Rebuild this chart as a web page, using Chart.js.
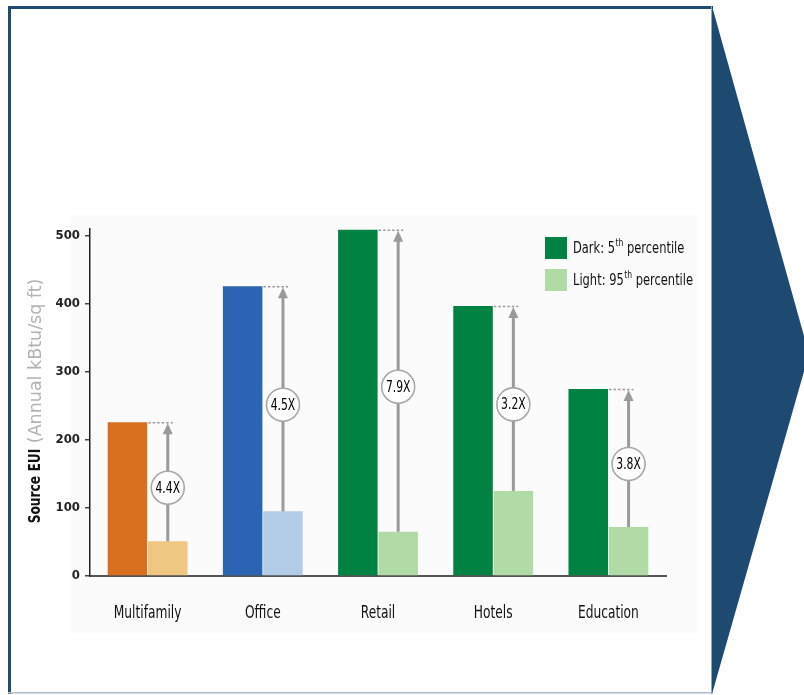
<!DOCTYPE html>
<html><head><meta charset="utf-8">
<script src="https://cdn.jsdelivr.net/npm/chart.js@4.4.1/dist/chart.umd.min.js"></script>
<style>html,body{margin:0;padding:0;background:#fff;}#wrap{width:804px;height:695px;position:relative;}</style>
</head><body><div id="wrap"><canvas id="c" width="804" height="695"></canvas></div>
<script>
const categories = ["Multifamily", "Office", "Retail", "Hotels", "Education"];
const dark5th = [226, 426, 509, 397, 275];
const light95th = [51, 95, 65, 125, 72];
const ratioLabels = ["4.4X", "4.5X", "7.9X", "3.2X", "3.8X"];
const darkColors = ["#d97020", "#2b64b3", "#008342", "#008342", "#008342"];
const lightColors = ["#eec883", "#b2cbe6", "#b1dba6", "#b1dba6", "#b1dba6"];
const yTicks = [0, 100, 200, 300, 400, 500];
const seriesNames = ["Dark: 5|th| percentile", "Light: 95|th| percentile"];

const FF = "'DejaVu Sans Condensed', 'Liberation Sans Narrow', sans-serif";

function squeezeText(ctx, txt, x, y, sx) {
  ctx.save();
  ctx.translate(x, y);
  ctx.scale(sx, 1);
  ctx.fillText(txt, 0, 0);
  ctx.restore();
}

const decor = {
  id: 'decor',
  beforeDraw(chart) {
    const ctx = chart.ctx;
    ctx.save();
    ctx.fillStyle = '#ffffff';
    ctx.fillRect(0, 0, 804, 695);
    ctx.fillStyle = '#fbfbfb';
    ctx.fillRect(70, 215, 627, 418);
    ctx.fillStyle = '#1f4a73';
    ctx.fillRect(8, 6, 3, 688);
    ctx.fillRect(8, 6, 705, 3);
    ctx.fillStyle = '#aebccd';
    ctx.fillRect(8, 692, 705, 1.5);
    ctx.fillStyle = '#1e4a72';
    ctx.beginPath();
    ctx.moveTo(712, 6);
    ctx.lineTo(809, 354);
    ctx.lineTo(712, 694);
    ctx.closePath();
    ctx.fill();
    ctx.fillStyle = '#8fa6c0';
    ctx.fillRect(711, 6, 1, 688);
    ctx.restore();
  },
  afterDraw(chart) {
    const ctx = chart.ctx;
    const m0 = chart.getDatasetMeta(0), m1 = chart.getDatasetMeta(1);
    const xs = chart.scales.x;
    ctx.save();
    // category labels via the x scale
    ctx.fillStyle = '#111';
    ctx.font = "17px " + FF;
    ctx.textAlign = 'center';
    ctx.textBaseline = 'middle';
    xs.ticks.forEach((t, i) => {
      squeezeText(ctx, xs.getLabelForValue(t.value), xs.getPixelForTick(i), 614, 0.8);
    });
    for (let i = 0; i < categories.length; i++) {
      const d = m0.data[i], l = m1.data[i];
      const ax = l.x;
      const topY = d.y, lowY = l.y;
      ctx.strokeStyle = '#9a9a9a';
      ctx.lineWidth = 1.5;
      ctx.setLineDash([2.5, 2]);
      ctx.beginPath();
      ctx.moveTo(d.x + d.width / 2 + 1, topY + 0.5);
      ctx.lineTo(ax + 5, topY + 0.5);
      ctx.stroke();
      ctx.setLineDash([]);
      ctx.lineWidth = 3;
      ctx.beginPath();
      ctx.moveTo(ax, lowY);
      ctx.lineTo(ax, topY + 8);
      ctx.stroke();
      ctx.fillStyle = '#9a9a9a';
      ctx.beginPath();
      ctx.moveTo(ax, topY + 1);
      ctx.lineTo(ax - 5, topY + 12);
      ctx.lineTo(ax + 5, topY + 12);
      ctx.closePath();
      ctx.fill();
      const cy = (topY + lowY) / 2 + 6;
      ctx.beginPath();
      ctx.arc(ax, cy, 16.5, 0, Math.PI * 2);
      ctx.fillStyle = '#ffffff';
      ctx.fill();
      ctx.lineWidth = 1.6;
      ctx.strokeStyle = '#a8a8a8';
      ctx.stroke();
      ctx.fillStyle = '#000';
      ctx.font = "15px " + FF;
      ctx.textAlign = 'center';
      ctx.textBaseline = 'middle';
      squeezeText(ctx, ratioLabels[i], ax, cy + 1, 0.8);
    }
    // y axis title
    ctx.save();
    ctx.translate(36, 401);
    ctx.rotate(-Math.PI / 2);
    ctx.textBaseline = 'middle';
    const t1 = "Source EUI", t2 = " (Annual kBtu/sq ft)";
    const f1 = "bold 16px " + FF, f2 = "17.5px 'DejaVu Sans', sans-serif";
    const s1 = 0.85;
    ctx.font = f1; const w1 = ctx.measureText(t1).width * s1;
    ctx.font = f2; const w2 = ctx.measureText(t2).width;
    const sx = -(w1 + w2) / 2;
    ctx.textAlign = 'left';
    ctx.font = f1; ctx.fillStyle = '#111';
    squeezeText(ctx, t1, sx, 0, s1);
    ctx.font = f2; ctx.fillStyle = '#b3b3b3';
    ctx.fillText(t2, sx + w1, 0);
    ctx.restore();
    // legend
    const legendY = [248, 280];
    const legendCol = ['#008342', '#b1dba6'];
    const ls = 0.85;
    for (let k = 0; k < 2; k++) {
      const cy = legendY[k];
      ctx.fillStyle = legendCol[k];
      ctx.fillRect(545, cy - 11, 22, 22);
      const parts = seriesNames[k].split('|');
      let x = 573;
      ctx.textAlign = 'left';
      ctx.textBaseline = 'middle';
      ctx.fillStyle = '#111';
      ctx.font = "15px " + FF;
      squeezeText(ctx, parts[0], x, cy + 1, ls);
      x += ctx.measureText(parts[0]).width * ls;
      ctx.font = "10px " + FF;
      squeezeText(ctx, parts[1], x + 0.5, cy - 5, ls);
      x += ctx.measureText(parts[1]).width * ls + 0.5;
      ctx.font = "15px " + FF;
      squeezeText(ctx, parts[2], x, cy + 1, ls);
    }
    ctx.restore();
  }
};

new Chart(document.getElementById('c'), {
  type: 'bar',
  data: {
    labels: categories,
    datasets: [
      { label: 'Dark: 5th percentile', data: dark5th, backgroundColor: darkColors, barPercentage: 0.98, categoryPercentage: 0.7 },
      { label: 'Light: 95th percentile', data: light95th, backgroundColor: lightColors, barPercentage: 0.98, categoryPercentage: 0.7 }
    ]
  },
  options: {
    responsive: false,
    animation: false,
    events: [],
    layout: { padding: { left: 0, top: 229, right: 138, bottom: 59 } },
    plugins: { legend: { display: false }, tooltip: { enabled: false } },
    scales: {
      x: {
        grid: { display: false, drawTicks: false },
        border: { display: true, color: '#555', width: 2 },
        ticks: { display: false },
        afterFit(s) { s.height = 60; }
      },
      y: {
        min: 0, max: 510,
        afterBuildTicks(axis) { axis.ticks = yTicks.map(v => ({ value: v })); },
        grid: { display: true, drawOnChartArea: false, tickLength: 5, color: '#444', lineWidth: 1.5 },
        border: { display: true, color: '#222', width: 1.5 },
        ticks: { color: '#222', font: { family: FF, size: 13, weight: 'bold' }, padding: 5 },
        afterFit(s) { s.width = 90; }
      }
    }
  },
  plugins: [decor]
});
</script></body></html>
